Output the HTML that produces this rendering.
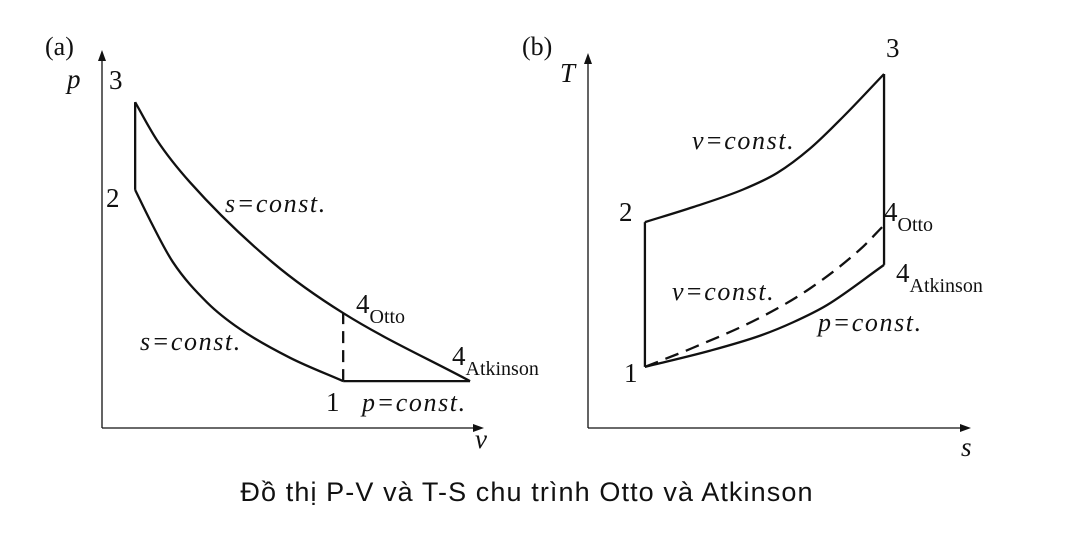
<!DOCTYPE html>
<html><head><meta charset="utf-8"><style>
html,body{margin:0;padding:0;background:#fff;width:1073px;height:535px;overflow:hidden}
svg{display:block}
.t{font-family:"Liberation Serif",serif;fill:#111}
.i{font-style:italic}
.w{letter-spacing:1.6px}
</style></head><body>
<svg width="1073" height="535">
<g id="pv"></g>
<g id="ts"></g>
<text x="527" y="501" text-anchor="middle" font-family="'Liberation Sans',sans-serif" font-size="27" letter-spacing="1.1" fill="#111">Đồ thị P-V và T-S chu trình Otto và Atkinson</text>
</svg>
<script>
// P-V diagram data (v, p in arbitrary units 0..100)
const pvExpV = [8.7, 14.4, 23.1, 44.9, 63.3, 96.6];
const pvExpP = [86.2, 76.2, 65.0, 43.7, 30.4, 12.4];
const pvCompV = [8.7, 12.6, 18.6, 27.6, 36.2, 49.3, 63.3];
const pvCompP = [63, 55.0, 43.9, 33.2, 26.2, 18.6, 12.4];
// T-S diagram data (s, T in arbitrary units 0..100)
const tsHeatS = [14.9, 27.5, 40.6, 49.5, 58.1, 66.8, 77.5];
const tsHeatT = [54.9, 58.9, 63.6, 68.0, 74.5, 83.0, 94.4];
const tsAtkS = [14.9, 31.9, 45, 53.7, 62.6, 77.5];
const tsAtkT = [16.3, 20.6, 24.6, 28.2, 32.8, 43.5];
const tsOttoS = [14.9, 27.5, 45, 58.1, 71.2, 77.5];
const tsOttoT = [16.3, 21.4, 29.4, 37.2, 47.6, 54.1];

const NS = "http://www.w3.org/2000/svg";
const pvX = v => 102 + v * 3.81, pvY = p => 428 - p * 3.78;
const tsX = s => 588 + s * 3.82, tsY = t => 428 - t * 3.75;

// monotone cubic (Fritsch-Carlson) path
function smooth(xs, ys) {
  const n = xs.length, d = [], m = [];
  for (let i = 0; i < n - 1; i++) d.push((ys[i+1] - ys[i]) / (xs[i+1] - xs[i]));
  m[0] = d[0]; m[n-1] = d[n-2];
  for (let i = 1; i < n - 1; i++) m[i] = (d[i-1] * d[i] <= 0) ? 0 : (d[i-1] + d[i]) / 2;
  for (let i = 0; i < n - 1; i++) {
    if (d[i] === 0) { m[i] = m[i+1] = 0; continue; }
    const a = m[i] / d[i], b = m[i+1] / d[i], s = a*a + b*b;
    if (s > 9) { const t = 3 / Math.sqrt(s); m[i] = t*a*d[i]; m[i+1] = t*b*d[i]; }
  }
  let p = "M" + xs[0] + " " + ys[0];
  for (let i = 0; i < n - 1; i++) {
    const h = (xs[i+1] - xs[i]) / 3;
    p += ` C${xs[i]+h} ${ys[i]+m[i]*h} ${xs[i+1]-h} ${ys[i+1]-m[i+1]*h} ${xs[i+1]} ${ys[i+1]}`;
  }
  return p;
}
function path(g, d, name, extra) {
  const e = document.createElementNS(NS, "path");
  e.setAttribute("d", d);
  e.setAttribute("fill", "none");
  e.setAttribute("stroke", "#111");
  e.setAttribute("stroke-width", extra && extra.w || 2.3);
  if (extra && extra.dash) e.setAttribute("stroke-dasharray", extra.dash);
  
  
  g.appendChild(e);
}
function text(g, x, y, s, size, name, cls, sub) {
  const e = document.createElementNS(NS, "text");
  e.setAttribute("x", x); e.setAttribute("y", y);
  e.setAttribute("font-size", size);
  e.setAttribute("class", "t " + (cls || ""));
  e.textContent = s;
  if (sub) {
    const ts = document.createElementNS(NS, "tspan");
    ts.setAttribute("font-size", 20); ts.setAttribute("dy", 10);
    ts.textContent = sub; e.appendChild(ts);
  }
  
  
  g.appendChild(e);
}
function axes(g, ox, oy, top, right, pre) {
  path(g, `M${ox} ${oy} L${ox} ${top + 8} M${ox} ${oy} L${right - 8} ${oy}`, pre + "-axes", {w: 1.3});
  const a = document.createElementNS(NS, "path");
  a.setAttribute("d", `M${ox} ${top} L${ox-4} ${top+11} L${ox+4} ${top+11}Z M${right} ${oy} L${right-11} ${oy-4} L${right-11} ${oy+4}Z`);
  a.setAttribute("fill", "#111");
  
  
  g.appendChild(a);
}

// P-V
const pv = document.getElementById("pv");
axes(pv, 102, 428, 50, 484, "pv");
const v3 = pvExpV[0], p3 = pvExpP[0], p2 = pvCompP[0];
path(pv, `M${pvX(v3)} ${pvY(p3)} L${pvX(v3)} ${pvY(p2)}`, "pv-heat-addition");
path(pv, smooth(pvExpV.map(pvX), pvExpP.map(pvY)), "pv-expansion-curve");
path(pv, smooth(pvCompV.map(pvX), pvCompP.map(pvY)), "pv-compression-curve");
const v1 = pvCompV[pvCompV.length - 1], pLow = pvCompP[pvCompP.length - 1];
path(pv, `M${pvX(v1)} ${pvY(pLow)} L${pvX(pvExpV[pvExpV.length-1])} ${pvY(pLow)}`, "pv-const-pressure-line");
path(pv, `M${pvX(v1)} ${pvY(pLow)} L${pvX(v1)} ${pvY(pvExpP[4])}`, "pv-otto-dashed", {dash: "12 7"});
text(pv, 45, 55, "(a)", 26, "label-a");
text(pv, 67, 88, "p", 27, "y-axis-title-p", "i");
text(pv, 109, 89, "3", 27, "point-3");
text(pv, 106, 207, "2", 27, "point-2");
text(pv, 225, 212, "s=const.", 26, "label-expansion", "i w");
text(pv, 140, 350, "s=const.", 26, "label-compression", "i w");
text(pv, 356, 313, "4", 27, "point-4-otto", "", "Otto");
text(pv, 452, 365, "4", 27, "point-4-atkinson", "", "Atkinson");
text(pv, 326, 411, "1", 27, "point-1");
text(pv, 362, 411, "p=const.", 26, "label-p-const", "i w");
text(pv, 475, 448, "v", 27, "x-axis-title-v", "i");

// T-S
const ts = document.getElementById("ts");
axes(ts, 588, 428, 53, 971, "ts");
path(ts, `M${tsX(tsAtkS[0])} ${tsY(tsAtkT[0])} L${tsX(tsHeatS[0])} ${tsY(tsHeatT[0])}`, "ts-compression-line");
path(ts, smooth(tsHeatS.map(tsX), tsHeatT.map(tsY)), "ts-heat-addition-curve");
path(ts, `M${tsX(tsHeatS[tsHeatS.length-1])} ${tsY(tsHeatT[tsHeatT.length-1])} L${tsX(tsAtkS[tsAtkS.length-1])} ${tsY(tsAtkT[tsAtkT.length-1])}`, "ts-expansion-line");
path(ts, smooth(tsAtkS.map(tsX), tsAtkT.map(tsY)), "ts-atkinson-rejection-curve");
path(ts, smooth(tsOttoS.map(tsX), tsOttoT.map(tsY)), "ts-otto-rejection-dashed", {dash: "14 8"});
text(ts, 522, 55, "(b)", 26, "label-b");
text(ts, 560, 82, "T", 27, "y-axis-title-T", "i");
text(ts, 886, 57, "3", 27, "ts-point-3");
text(ts, 619, 221, "2", 27, "ts-point-2");
text(ts, 884, 221, "4", 27, "ts-point-4-otto", "", "Otto");
text(ts, 896, 282, "4", 27, "ts-point-4-atkinson", "", "Atkinson");
text(ts, 692, 149, "v=const.", 26, "ts-label-v-const-top", "i w");
text(ts, 672, 300, "v=const.", 26, "ts-label-v-const-bottom", "i w");
text(ts, 818, 331, "p=const.", 26, "ts-label-p-const", "i w");
text(ts, 624, 382, "1", 27, "ts-point-1");
text(ts, 961, 456, "s", 27, "x-axis-title-s", "i");
</script>
</body></html>
